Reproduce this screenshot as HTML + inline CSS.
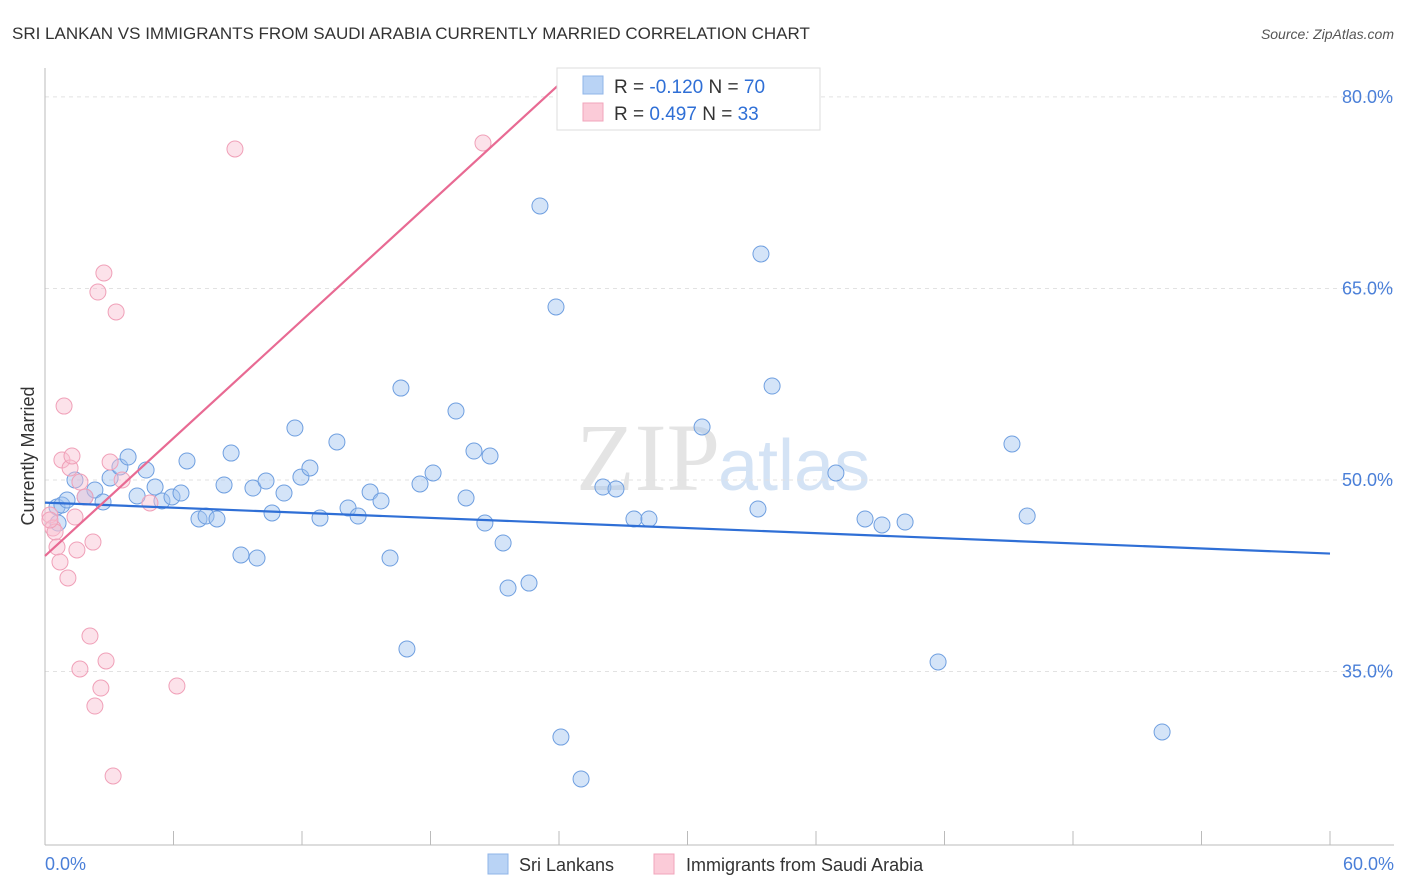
<!DOCTYPE html>
<html><head><meta charset="utf-8"><style>
body{margin:0;background:#fff;font-family:"Liberation Sans",sans-serif}
svg{display:block}
</style></head><body>
<svg id="chart" width="1406" height="892">
<text x="12" y="39" font-size="17" fill="#333">SRI LANKAN VS IMMIGRANTS FROM SAUDI ARABIA CURRENTLY MARRIED CORRELATION CHART</text>
<text x="1394" y="39" font-size="14" fill="#555" font-style="italic" text-anchor="end">Source: ZipAtlas.com</text>
<text x="720" y="490" font-size="96" fill="#e4e4e4" text-anchor="end" font-family="Liberation Serif">ZIP</text>
<text x="718" y="490" font-size="72" fill="#d4e3f5">atlas</text>
<g id="grid"></g><g id="axes"></g><g id="marks"></g>
<text transform="translate(34,456) rotate(-90)" font-size="18" fill="#333" text-anchor="middle">Currently Married</text>
<text x="45" y="870" font-size="18" fill="#4a7fd8">0.0%</text>
<text x="1394" y="870" font-size="18" fill="#4a7fd8" text-anchor="end">60.0%</text>
<g>
<rect x="557" y="68" width="263" height="62" fill="#fff" stroke="#ddd"/>
<rect x="583" y="76" width="20" height="18" fill="#b9d3f5" stroke="#8fb4e8"/>
<rect x="583" y="103" width="20" height="18" fill="#fbcbd8" stroke="#f2a4bb"/>
<text x="614" y="93" font-size="19" fill="#333">R = <tspan fill="#2f6fd6">-0.120</tspan>   N = <tspan fill="#2f6fd6">70</tspan></text>
<text x="614" y="120" font-size="19" fill="#333">R =  <tspan fill="#2f6fd6"> 0.497</tspan>   N =  <tspan fill="#2f6fd6">33</tspan></text>
</g>
<g>
<rect x="488" y="854" width="20" height="20" fill="#b9d3f5" stroke="#8fb4e8"/>
<text x="519" y="871" font-size="18" fill="#333">Sri Lankans</text>
<rect x="654" y="854" width="20" height="20" fill="#fbcbd8" stroke="#f2a4bb"/>
<text x="686" y="871" font-size="18" fill="#333">Immigrants from Saudi Arabia</text>
</g>
</svg>
<script>
const yTicks=[35,50,65,80];
const yTickLabels=["35.0%","50.0%","65.0%","80.0%"];
const xTicks=[0,6,12,18,24,30,36,42,48,54,60];
const blueX=[0.56,0.79,0.61,1.03,1.40,1.87,2.33,2.71,3.04,3.50,3.88,4.30,4.72,5.14,5.46,5.93,6.35,6.63,7.19,7.52,8.03,8.36,8.69,9.15,9.71,9.90,10.32,10.60,11.16,11.67,11.95,12.37,12.84,13.63,14.15,14.62,15.18,15.69,16.11,16.62,16.90,17.51,18.12,19.19,19.66,20.03,20.54,20.78,21.39,21.62,22.60,23.11,23.86,24.09,25.03,26.05,26.66,27.50,28.20,30.68,33.29,33.43,33.95,36.93,38.29,39.08,40.16,41.70,45.15,45.86,52.16];
const blueY=[47.89,48.04,46.63,48.43,50.0,48.67,49.22,48.28,50.16,51.02,51.80,48.75,50.78,49.45,48.36,48.67,48.98,51.49,46.95,47.18,46.95,49.61,52.11,44.13,49.37,43.89,49.92,47.42,48.98,54.07,50.23,50.94,47.02,52.98,47.81,47.18,49.06,48.36,43.89,57.20,36.77,49.69,50.55,55.40,48.59,52.27,46.63,51.88,45.07,41.54,41.93,71.46,63.55,29.87,26.59,49.45,49.30,46.95,46.95,54.15,47.73,67.70,57.36,50.55,46.95,46.48,46.71,35.75,52.82,47.18,30.27];
const pinkX=[0.23,0.37,0.47,0.56,0.70,0.89,0.79,1.07,1.17,1.26,1.40,1.49,1.63,1.87,2.10,2.24,2.33,2.47,2.61,2.75,2.85,3.04,3.18,3.32,3.60,4.90,6.16,8.87,20.45,1.63,0.23];
const pinkY=[47.26,46.24,45.93,44.75,43.58,55.79,51.57,42.33,50.94,51.88,47.10,44.52,49.84,48.67,37.78,45.14,32.30,64.72,33.71,66.21,35.83,51.41,26.82,63.16,50.0,48.20,33.87,75.92,76.39,35.20,46.87];
const blueLine=[48.23,44.24]; // at x=0 and x=60
const pinkLine=[44.05,1.538]; // intercept, slope
const X0=45,X1=1330,Y50=480,PPU=12.77;
const sx=v=>X0+(X1-X0)*v/60;
const sy=v=>Y50-(v-50)*PPU;
const NS="http://www.w3.org/2000/svg";
function mk(tag,attrs,parent){const e=document.createElementNS(NS,tag);for(const k in attrs)e.setAttribute(k,attrs[k]);parent.appendChild(e);return e;}
const grid=document.getElementById('grid'),axes=document.getElementById('axes'),marks=document.getElementById('marks');
yTicks.forEach((t,i)=>{
 const l=mk('line',{x1:X0,x2:1394,y1:sy(t),y2:sy(t),stroke:'#e2e2e2','stroke-dasharray':'4,4'},grid);
 
 
 const tx=mk('text',{x:1393,y:sy(t)+6,'font-size':18,fill:'#4a7fd8','text-anchor':'end'},axes);
 tx.textContent=yTickLabels[i];
 
 
});
let a=mk('line',{x1:X0,x2:X0,y1:68,y2:845,stroke:'#bbb'},axes);


a=mk('line',{x1:X0,x2:1394,y1:845,y2:845,stroke:'#bbb'},axes);


xTicks.forEach(t=>{
 const l=mk('line',{x1:sx(t),x2:sx(t),y1:831,y2:845,stroke:'#bbb'},axes);
 
 
});
blueX.forEach((x,i)=>{
 const c=mk('circle',{cx:sx(x),cy:sy(blueY[i]),r:8,fill:'rgba(160,196,240,0.45)',stroke:'#6f9fe0','stroke-width':1},marks);
 
 
});
pinkX.forEach((x,i)=>{
 const c=mk('circle',{cx:sx(x),cy:sy(pinkY[i]),r:8,fill:'rgba(248,190,208,0.45)',stroke:'#f0a0b8','stroke-width':1},marks);
 
 
});
let r=mk('line',{x1:sx(0),y1:sy(blueLine[0]),x2:sx(60),y2:sy(blueLine[1]),stroke:'#2f6fd6','stroke-width':2.2},marks);


const px1=24.14;
r=mk('line',{x1:sx(0),y1:sy(pinkLine[0]),x2:sx(px1),y2:sy(pinkLine[0]+pinkLine[1]*px1),stroke:'#e86a93','stroke-width':2.2},marks);


</script>
</body></html>
